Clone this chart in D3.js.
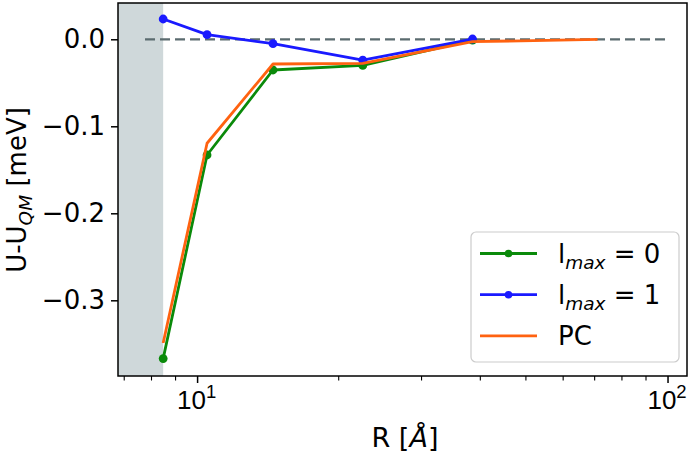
<!DOCTYPE html>
<html>
<head>
<meta charset="utf-8">
<script src="https://cdn.jsdelivr.net/npm/d3@7"></script>
<style>
  body { margin: 0; background: #fff; }
  svg { display: block; font-family: "DejaVu Sans", sans-serif; }
</style>
</head>
<body>
<div id="chart"></div>
<script>
// datos
const rGreen = [8.47, 10.5, 14.5, 22.5, 38.5];
const uGreen = [-0.367, -0.133, -0.0353, -0.030, -0.001];
const rBlue = [8.47, 10.5, 14.5, 22.5, 38.5];
const uBlue = [0.0233, 0.0053, -0.005, -0.024, 0.0003];
const rPC = [8.47, 10.5, 14.5, 22.5, 38.5, 71];
const uPC = [-0.349, -0.1195, -0.0284, -0.0276, -0.0028, 0.0];
const yTicks = [0.0, -0.1, -0.2, -0.3];
const xMajor = [10, 100];
const xMinor = [7, 8, 9, 20, 30, 40, 50, 60, 70, 80, 90];
const shadeRange = [6.79, 8.47];
const zeroLineRange = [7.75, 100];

const W = 696, H = 453;
const margin = { top: 3, right: 9, bottom: 77, left: 118 };
const FS = 26, FSsub = 18.5;

const svg = d3.select('#chart').append('svg')
    .attr('width', W).attr('height', H);

const x = d3.scaleLog().domain([6.79, 110]).range([margin.left, W - margin.right]);
const y = d3.scaleLinear().domain([-0.387, 0.0417]).range([H - margin.bottom, margin.top]);

// zona sombreada
svg.append('rect')
    .attr('x', x(shadeRange[0])).attr('y', margin.top)
    .attr('width', x(shadeRange[1]) - x(shadeRange[0]))
    .attr('height', y.range()[0] - margin.top)
    .attr('fill', '#cfd8da');

// linea de cero
svg.append('line')
    .attr('x1', x(zeroLineRange[0])).attr('x2', x(zeroLineRange[1]))
    .attr('y1', y(0)).attr('y2', y(0))
    .attr('stroke', '#5b6b6f').attr('stroke-width', 2.2)
    .attr('stroke-dasharray', '10,5');

const series = [
    { r: rGreen, u: uGreen, color: '#0a8a0a', dots: true },
    { r: rBlue, u: uBlue, color: '#1a1aff', dots: true },
    { r: rPC, u: uPC, color: '#ff6210', dots: false }
];

const line = d3.line().x(d => x(d[0])).y(d => y(d[1]));

series.forEach(s => {
    const pts = s.r.map((r, i) => [r, s.u[i]]);
    svg.append('path')
        .datum(pts)
        .attr('fill', 'none')
        .attr('stroke', s.color)
        .attr('stroke-width', 2.8)
        .attr('stroke-linejoin', 'round')
        .attr('d', line);
    if (s.dots) {
        svg.append('g').selectAll('circle')
            .data(pts)
            .join('circle')
            .attr('cx', d => x(d[0]))
            .attr('cy', d => y(d[1]))
            .attr('r', 4.4)
            .attr('fill', s.color);
    }
});

// ejes
const xAxis = svg.append('g')
    .attr('transform', `translate(0,${y.range()[0]})`)
    .call(d3.axisBottom(x).tickValues(xMajor).tickSize(7).tickSizeOuter(0).tickFormat(''));
xAxis.select('.domain').remove();
xAxis.selectAll('.tick line').attr('stroke-width', 1.5);
xAxis.selectAll('.tick').append('text')
    .attr('y', 33).attr('x', -1)
    .attr('text-anchor', 'middle')
    .attr('font-size', FS).attr('fill', '#000')
    .each(function(d) {
        const t = d3.select(this);
        t.append('tspan').text('10');
        t.append('tspan').attr('dy', -11).attr('font-size', FSsub).text(Math.round(Math.log10(d)));
    });

svg.append('g')
    .attr('transform', `translate(0,${y.range()[0]})`)
    .selectAll('line')
    .data(xMinor)
    .join('line')
    .attr('x1', d => x(d)).attr('x2', d => x(d))
    .attr('y1', 0).attr('y2', 4.5)
    .attr('stroke', '#000').attr('stroke-width', 1.1);

const yAxis = svg.append('g')
    .attr('transform', `translate(${margin.left},0)`)
    .call(d3.axisLeft(y).tickValues(yTicks).tickSize(7).tickPadding(6).tickFormat(d3.format('.1f')));
yAxis.select('.domain').remove();
yAxis.selectAll('.tick line').attr('stroke-width', 1.5);
yAxis.selectAll('.tick text').attr('font-size', FS).attr('font-family', '"DejaVu Sans", sans-serif').attr('fill', '#000');

// marco
svg.append('rect')
    .attr('x', margin.left).attr('y', margin.top)
    .attr('width', W - margin.right - margin.left)
    .attr('height', y.range()[0] - margin.top)
    .attr('fill', 'none').attr('stroke', '#000').attr('stroke-width', 1.5);

// etiquetas
const xl = svg.append('text')
    .attr('x', 405).attr('y', 447)
    .attr('text-anchor', 'middle')
    .attr('font-size', 27);
xl.append('tspan').text('R [');
xl.append('tspan').attr('font-style', 'italic').text('Å');
xl.append('tspan').text(']');

const yl = svg.append('text')
    .attr('transform', 'translate(26,190) rotate(-90)')
    .attr('text-anchor', 'middle')
    .attr('font-size', FS);
yl.append('tspan').text('U-U');
yl.append('tspan').attr('dy', 6).attr('font-size', FSsub).attr('font-style', 'italic').text('QM');
yl.append('tspan').attr('dy', -6).text(' [meV]');

// leyenda
const legend = svg.append('g').attr('transform', 'translate(471,232)');
legend.append('rect')
    .attr('width', 208).attr('height', 130).attr('rx', 5)
    .attr('fill', '#fff').attr('fill-opacity', 0.8)
    .attr('stroke', '#cccccc').attr('stroke-width', 1.2);

const labels = [['l', 'max', ' = 0'], ['l', 'max', ' = 1'], ['PC', '', '']];
series.forEach((s, i) => {
    const g = legend.append('g').attr('transform', `translate(0,${21.5 + i * 41.2})`);
    g.append('line')
        .attr('x1', 9).attr('x2', 66)
        .attr('stroke', s.color).attr('stroke-width', 2.8);
    if (s.dots) {
        g.append('circle').attr('cx', 37.5).attr('r', 3.8).attr('fill', s.color);
    }
    const t = g.append('text').attr('x', 87).attr('y', 9.5).attr('font-size', FS);
    t.append('tspan').text(labels[i][0]);
    if (labels[i][1]) {
        t.append('tspan').attr('dy', 6).attr('font-size', FSsub).attr('font-style', 'italic').text(labels[i][1]);
        t.append('tspan').attr('dy', -6).text(labels[i][2]);
    }
});
</script>
</body>
</html>
